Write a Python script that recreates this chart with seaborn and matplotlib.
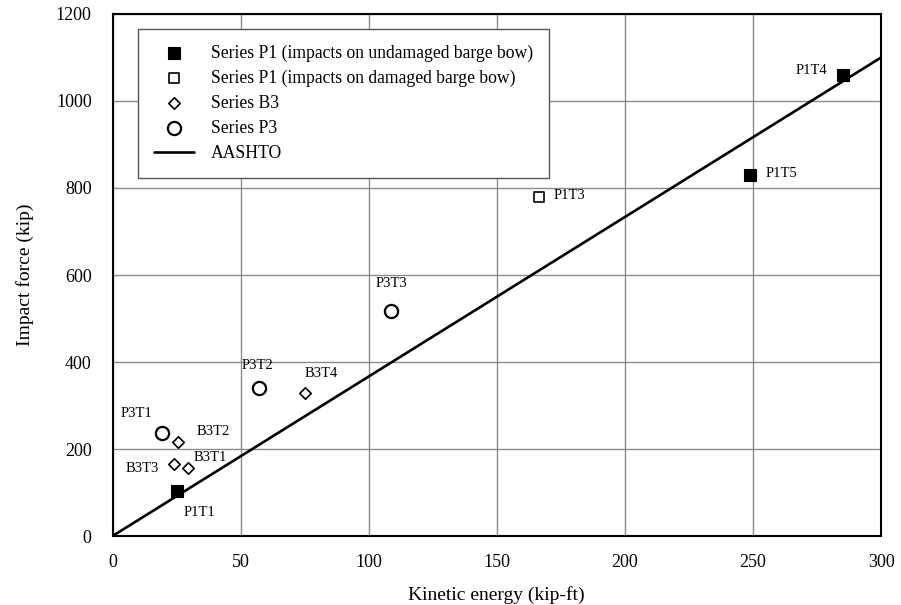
import matplotlib
matplotlib.use("Agg")
import matplotlib.pyplot as plt
import seaborn as sns

# Test results: kinetic energy (kip-ft) vs. peak impact force (kip)
p1_und_names = ["P1T1", "P1T4", "P1T5"]
p1_und_ke = [25.1, 285.3, 248.8]
p1_und_force = [103, 1060, 830]

p1_dam_names = ["P1T3"]
p1_dam_ke = [166.6]
p1_dam_force = [780]

b3_names = ["B3T1", "B3T2", "B3T3", "B3T4"]
b3_ke = [29.6, 25.4, 24.0, 75.1]
b3_force = [156, 217, 165, 329]

p3_names = ["P3T1", "P3T2", "P3T3"]
p3_ke = [19.2, 57.2, 108.7]
p3_force = [236, 340, 517]

# AASHTO design relation (linear in kinetic energy)
aashto_ke = [0, 300]
aashto_force = [0, 1100]

x_ticks = [0, 50, 100, 150, 200, 250, 300]
y_ticks = [0, 200, 400, 600, 800, 1000, 1200]

sns.set_style("white")
plt.rcParams["font.family"] = ["Liberation Serif", "DejaVu Serif"]
plt.rcParams["text.color"] = "black"
plt.rcParams["axes.labelcolor"] = "black"

fig = plt.figure(figsize=(9.01, 6.05), dpi=100)
ax = fig.add_axes([0.1249, 0.114, 0.853, 0.8629])

sns.scatterplot(x=p1_und_ke, y=p1_und_force, marker="s", s=80, color="black",
                edgecolor="black", linewidth=0.8, ax=ax,
                label="Series P1 (impacts on undamaged barge bow)", zorder=5)
sns.scatterplot(x=p1_dam_ke, y=p1_dam_force, marker="s", s=60, facecolor="white",
                edgecolor="black", linewidth=1.2, ax=ax,
                label="Series P1 (impacts on damaged barge bow)", zorder=5)
sns.scatterplot(x=b3_ke, y=b3_force, marker="D", s=34, facecolor="white",
                edgecolor="black", linewidth=1.2, ax=ax,
                label="Series B3", zorder=5)
sns.scatterplot(x=p3_ke, y=p3_force, marker="o", s=90, facecolor="white",
                edgecolor="black", linewidth=1.6, ax=ax,
                label="Series P3", zorder=5)
sns.lineplot(x=aashto_ke, y=aashto_force, color="black", linewidth=1.9, ax=ax,
             label="AASHTO", zorder=4)

# Point labels: (dx, dy) offsets in points and horizontal alignment
label_style = {
    "P1T1": ((5, -15), "left"),
    "P1T4": ((-12, 3), "right"),
    "P1T5": ((11, 1), "left"),
    "P1T3": ((10, 1), "left"),
    "B3T1": ((4, 8), "left"),
    "B3T2": ((14, 7), "left"),
    "B3T3": ((-11, -3), "right"),
    "B3T4": ((12, 14), "center"),
    "P3T1": ((-18, 14), "center"),
    "P3T2": ((-1, 16), "center"),
    "P3T3": ((0, 20), "center"),
}
for names, xs, ys in [(p1_und_names, p1_und_ke, p1_und_force),
                      (p1_dam_names, p1_dam_ke, p1_dam_force),
                      (b3_names, b3_ke, b3_force),
                      (p3_names, p3_ke, p3_force)]:
    for n, xv, yv in zip(names, xs, ys):
        off, ha = label_style[n]
        ax.annotate(n, (xv, yv), xytext=off, textcoords="offset points",
                    ha=ha, va="center", fontsize=10.5, color="black")

ax.set_xlim(0, 300)
ax.set_ylim(0, 1200)
ax.set_xticks(x_ticks)
ax.set_yticks(y_ticks)
ax.tick_params(axis="both", length=0, labelsize=13, colors="black")
ax.tick_params(axis="x", pad=13)
ax.tick_params(axis="y", pad=15)
ax.grid(True, color="#8c8c8c", linewidth=1.0)
ax.set_axisbelow(True)
for sp in ax.spines.values():
    sp.set_color("black")
    sp.set_linewidth(1.5)

ax.set_xlabel("Kinetic energy (kip-ft)", fontsize=14, labelpad=11, color="black")
ax.set_ylabel("Impact force (kip)", fontsize=14, labelpad=16, color="black")

leg = ax.legend(loc="upper left", bbox_to_anchor=(0.033, 0.972), borderaxespad=0,
                fontsize=12.7, frameon=True, fancybox=False, edgecolor="#555555",
                framealpha=1, labelspacing=0.45, handlelength=2.3,
                handletextpad=0.95, borderpad=0.9, labelcolor="black")
leg.get_frame().set_linewidth(1.0)

fig.savefig("out.png", dpi=100)
